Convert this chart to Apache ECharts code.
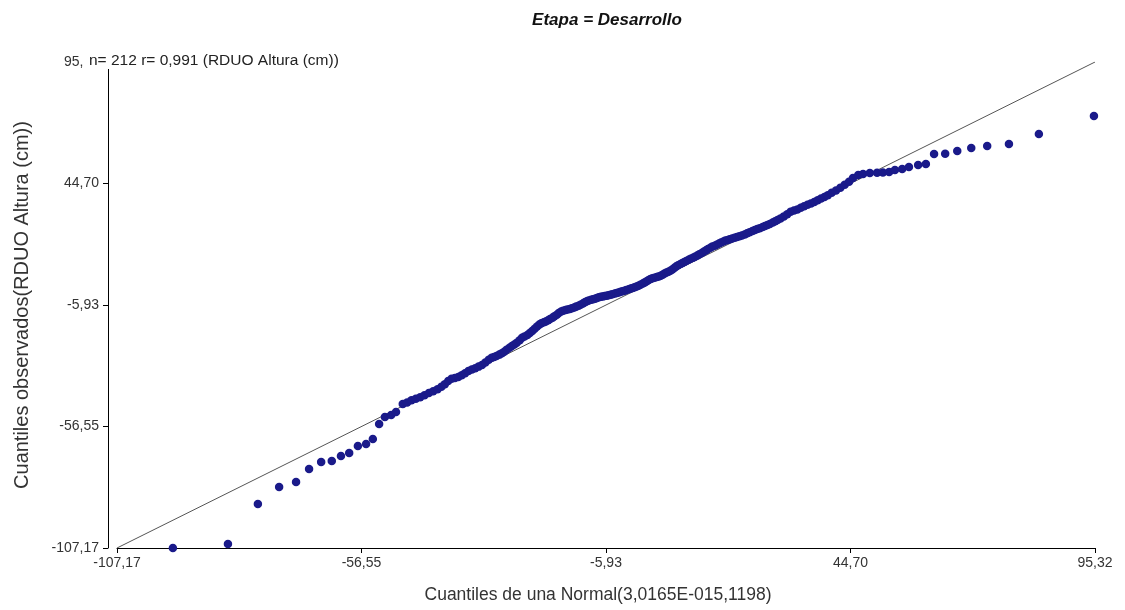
<!DOCTYPE html>
<html>
<head>
<meta charset="utf-8">
<script src="https://cdn.jsdelivr.net/npm/echarts@6/dist/echarts.min.js"></script>
<style>
html,body{margin:0;padding:0;background:#fff;}
#chart{width:1125px;height:610px;}
</style>
</head>
<body>
<div id="chart"></div>
<script>
var xQuantiles = [
  -95.6, -84.2, -78.0, -73.6, -70.1, -67.4, -64.9, -62.7, -60.8, -59.1, -57.3, -55.6, -54.2, -52.9, -51.7, -50.4, -49.4,
  -48.0, -47.1, -46.2, -45.3, -44.4, -43.5, -42.6, -41.7, -40.8,
  -40.0, -39.3, -38.6, -37.9, -37.2, -36.5, -35.8, -35.1, -34.4, -33.7, -33.0, -32.3, -31.6, -30.9, -30.2,
  -29.6, -29.1, -28.6, -28.0, -27.5, -27.0, -26.5, -25.9, -25.4, -24.9, -24.4, -23.8, -23.3, -22.8, -22.2, -21.7, -21.2, -20.7, -20.2,
  -19.7, -19.3, -18.8, -18.4, -17.9, -17.5, -17.0, -16.6, -16.1, -15.7, -15.2, -14.8, -14.3, -13.9, -13.4, -13.0, -12.5, -12.1, -11.6, -11.2, -10.7, -10.3,
  -9.9, -9.5, -9.0, -8.6, -8.2, -7.8, -7.4, -7.0, -6.6, -6.2, -5.8, -5.4, -5.0, -4.6, -4.1, -3.7, -3.3, -2.9, -2.5, -2.1, -1.7, -1.2, -0.8, -0.4,
  0.0, 0.4, 0.8, 1.2, 1.7, 2.1, 2.5, 2.9, 3.3, 3.7, 4.1, 4.6, 5.0, 5.4, 5.8, 6.2, 6.6, 7.0, 7.4, 7.8, 8.2, 8.6, 9.0, 9.5,
  9.9, 10.3, 10.7, 11.2, 11.6, 12.1, 12.5, 13.0, 13.4, 13.9, 14.3, 14.8, 15.2, 15.7, 16.1, 16.6, 17.0, 17.5, 17.9, 18.4, 18.8, 19.3,
  19.7, 20.2, 20.7, 21.2, 21.7, 22.2, 22.8, 23.3, 23.8, 24.4, 24.9, 25.4, 25.9, 26.5, 27.0, 27.5, 28.0, 28.6, 29.1,
  29.6, 30.2, 30.9, 31.6, 32.3, 33.0, 33.7, 34.4, 35.1, 35.8, 36.5, 37.2, 37.9, 38.6, 39.3,
  40.0, 40.8, 41.7, 42.6, 43.5, 44.4,
  45.2, 46.3, 47.3, 48.7, 50.2, 51.4, 52.7, 53.9, 55.4, 56.8, 58.7, 60.3, 62.0, 64.3, 66.8, 69.7, 73.0, 77.5, 83.7, 95.1
];
var yObserved = [
  -107.17, -105.5, -88.8, -81.8, -79.7, -74.3, -71.3, -70.9, -68.8, -67.6, -64.7, -63.8, -61.8, -55.5, -52.6, -51.8, -50.5,
  -47.2, -46.5, -45.6, -45.0, -44.4, -43.5, -42.6, -41.9, -41.0,
  -40.0, -38.9, -37.6, -36.7, -36.3, -35.9, -35.2, -34.4, -33.4, -32.8, -32.3, -31.6, -30.9, -29.9, -28.7,
  -27.9, -27.6, -27.2, -26.6, -26.0, -25.4, -24.6, -23.7, -23.0, -22.4, -21.7, -20.6, -19.6, -19.0, -18.4, -17.6, -16.8, -15.8, -14.9,
  -14.0, -13.5, -13.1, -12.8, -12.3, -11.8, -11.2, -10.6, -10.0, -9.3, -8.6, -8.3, -8.0, -7.8, -7.6, -7.3, -7.0, -6.6, -6.2, -5.8, -5.3, -4.8,
  -4.4, -4.0, -3.7, -3.5, -3.3, -3.0, -2.7, -2.5, -2.4, -2.2, -2.1, -1.9, -1.7, -1.4, -1.1, -0.9, -0.7, -0.4, -0.2, 0.0, 0.3, 0.6, 0.9, 1.2,
  1.5, 1.8, 2.1, 2.5, 3.0, 3.5, 4.0, 4.5, 4.9, 5.2, 5.4, 5.7, 6.0, 6.3, 6.7, 7.2, 7.6, 7.9, 8.3, 8.9, 9.5, 10.1, 10.6, 11.2,
  11.6, 12.0, 12.4, 12.9, 13.3, 13.8, 14.2, 14.7, 15.2, 15.7, 16.3, 16.9, 17.4, 17.9, 18.4, 18.8, 19.2, 19.7, 20.1, 20.5, 20.9, 21.2,
  21.5, 21.8, 22.1, 22.4, 22.7, 23.0, 23.5, 24.0, 24.4, 24.9, 25.3, 25.7, 26.1, 26.6, 27.0, 27.4, 27.8, 28.4, 29.0,
  29.5, 30.1, 31.0, 31.9, 32.9, 33.4, 33.9, 34.6, 35.2, 35.8, 36.4, 37.0, 37.7, 38.4, 39.1,
  39.8, 40.8, 41.8, 42.9, 44.2, 45.4,
  47.0, 48.2, 48.7, 49.1, 49.2, 49.3, 49.5, 50.3, 50.7, 51.6, 52.4, 52.8, 57.0, 57.1, 58.2, 59.5, 60.3, 61.2, 65.3, 72.8
];
var tickValues = [-107.17, -56.55, -5.93, 44.70, 95.32];
var tickLabels = ['-107,17', '-56,55', '-5,93', '44,70', '95,32'];
var refLine = [[-107.17, -107.17], [95.32, 95.32]];
var titleText = 'Etapa = Desarrollo';
var noteText = 'n= 212 r= 0,991 (RDUO Altura (cm))';
var xName = 'Cuantiles de una Normal(3,0165E-015,1198)';
var yName = 'Cuantiles observados(RDUO Altura (cm))';

var FONT = "'Liberation Sans', Arial, sans-serif";
function fmt(v) {
  for (var k = 0; k < tickValues.length; k++) {
    if (Math.abs(tickValues[k] - v) < 1e-6) return tickLabels[k];
  }
  return '';
}

var points = xQuantiles.map(function (x, i) { return [x, yObserved[i]]; });

var chart = echarts.init(document.getElementById('chart'), null, { renderer: 'canvas' });
var axisCommon = {
  type: 'value',
  min: tickValues[0],
  max: tickValues[tickValues.length - 1],
  splitLine: { show: false },
  axisLine: { show: true, onZero: false, lineStyle: { color: '#000', width: 1 } },
  axisTick: { show: true, customValues: tickValues, length: 5, lineStyle: { color: '#000' } },
  axisLabel: { customValues: tickValues, formatter: fmt, color: '#333', fontSize: 14, fontFamily: FONT, margin: 9 },
  nameLocation: 'middle'
};
chart.setOption({
  animation: false,
  backgroundColor: '#fff',
  title: {
    text: titleText,
    left: 602, top: 7, textAlign: 'center',
    textStyle: { fontSize: 17, fontWeight: 'bold', fontStyle: 'italic', color: '#111', fontFamily: FONT }
  },
  grid: { left: 117, right: 30, top: 62, bottom: 62, containLabel: false },
  xAxis: Object.assign({}, axisCommon, {
    name: xName, nameGap: 38,
    nameTextStyle: { color: '#333', fontFamily: FONT, fontSize: 17.5, padding: [0, 16, 0, 0] },
    axisLabel: Object.assign({}, axisCommon.axisLabel, { margin: 8 })
  }),
  yAxis: Object.assign({}, axisCommon, {
    name: yName, nameGap: 76, offset: 9,
    nameTextStyle: { color: '#333', fontFamily: FONT, fontSize: 20 }
  }),
  graphic: [{
    type: 'text', left: 84, top: 53, z: 100,
    style: { text: noteText, font: '15.5px ' + FONT, fill: '#222', backgroundColor: '#fff', padding: [0, 2, 0, 5] }
  }],
  series: [{
    type: 'line',
    data: refLine,
    symbol: 'none',
    lineStyle: { color: '#555', width: 1 },
    z: 1,
    silent: true
  }, {
    type: 'scatter',
    data: points,
    symbol: 'circle',
    symbolSize: 8.5,
    itemStyle: { color: '#1a1a8a', opacity: 1 },
    z: 3
  }]
});
</script>
</body>
</html>
